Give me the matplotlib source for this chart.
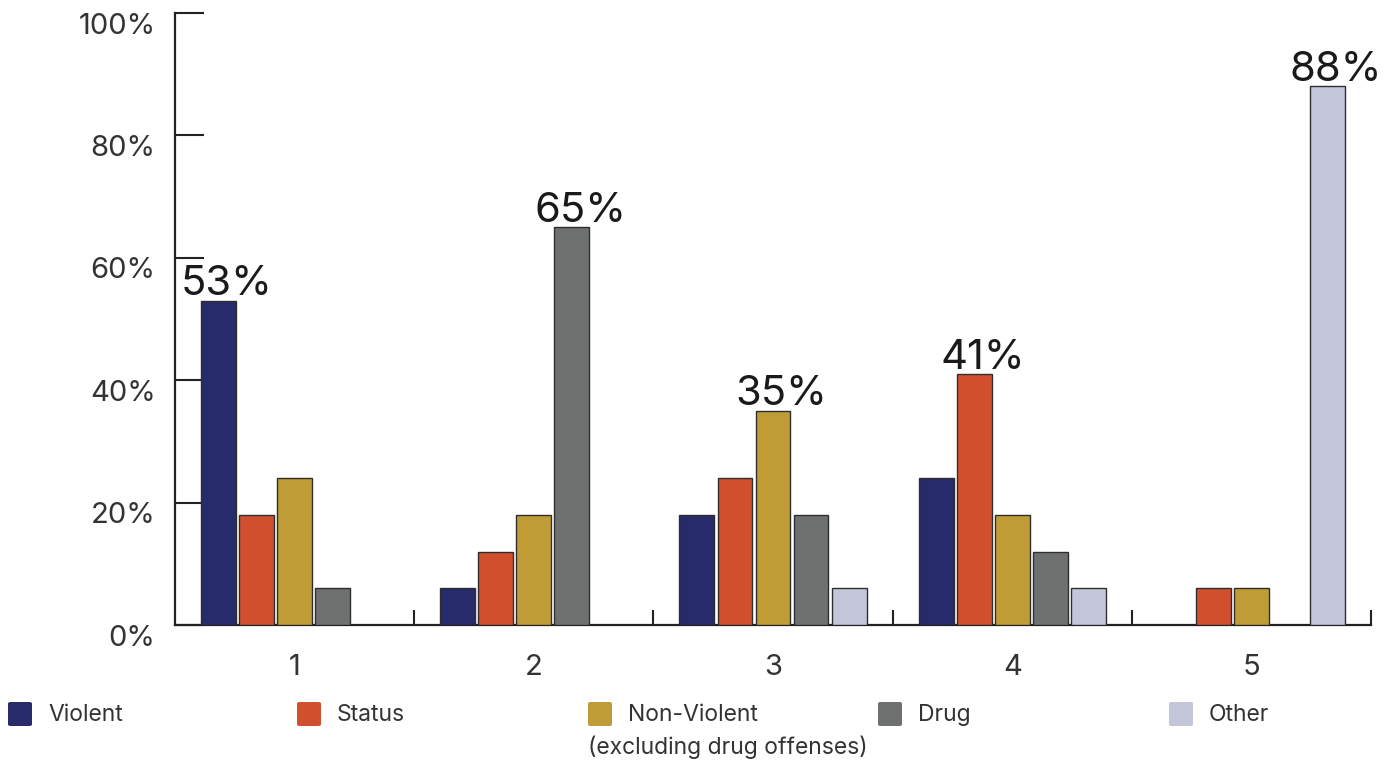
import numpy as np
import matplotlib.pyplot as plt
from matplotlib.patches import FancyBboxPatch
from matplotlib.transforms import ScaledTranslation

plt.rcParams['font.family'] = ['Inter', 'DejaVu Sans']

# offense category shares for each of the five groups
groups     = ['1', '2', '3', '4', '5']
categories = ['Violent', 'Status', 'Non-Violent', 'Drug', 'Other']
violent     = [53, 6, 18, 24, 0]
status      = [18, 12, 24, 41, 6]
non_violent = [24, 18, 35, 18, 6]
drug        = [6, 65, 18, 12, 0]
other       = [0, 0, 6, 6, 88]
series = [violent, status, non_violent, drug, other]

COLORS     = ['#272A6B', '#D0502D', '#BF9C35', '#6F7170', '#C3C5D9']
EDGE       = '#2E2E2E'
TEXT_COLOR = '#333333'
BAR_W      = 0.146
PITCH      = 0.159

fig = plt.figure(figsize=(13.93, 7.61), dpi=100)
ax = fig.add_axes([175/1393, 136/761, (1371-175)/1393, (625-13)/761])

x = np.arange(len(groups)) + 0.5
for k, vals in enumerate(series):
    vals = np.array(vals, dtype=float)
    xs = x + (k - 2) * PITCH
    mask = vals > 0
    ax.bar(xs[mask], vals[mask], width=BAR_W, color=COLORS[k],
           edgecolor=EDGE, linewidth=1.0, zorder=3)

# label the tallest bar in each group
table = np.array(series)
for g in range(len(groups)):
    k = int(np.argmax(table[:, g]))
    v = table[k, g]
    ax.text(x[g] + (k - 2) * PITCH + 0.035, v + 0.9, f'{v:.0f}%',
            ha='center', va='baseline', fontsize=30, color='#1A1A1A')

ax.set_xlim(0, 5)
ax.set_ylim(0, 100)
for s in ['top', 'right']:
    ax.spines[s].set_visible(False)
for s in ['left', 'bottom']:
    ax.spines[s].set_linewidth(1.6)
    ax.spines[s].set_color('#222222')

ax.set_yticks(np.arange(0, 101, 20))
ax.set_yticklabels([f'{v}%' for v in range(0, 101, 20)])
ax.tick_params(axis='y', direction='in', length=21, width=1.5, color='#222222',
               pad=14, labelsize=21, labelcolor=TEXT_COLOR)
shift = ScaledTranslation(0, -0.10, fig.dpi_scale_trans)
for lab in ax.get_yticklabels():
    lab.set_transform(lab.get_transform() + shift)

ax.set_xticks(x)
ax.set_xticklabels(groups)
ax.set_xticks([1, 2, 3, 4, 5], minor=True)
ax.tick_params(axis='x', which='major', length=0, pad=21, labelsize=21,
               labelcolor=TEXT_COLOR)
ax.tick_params(axis='x', which='minor', direction='in', length=11, width=1.5,
               color='#222222')

# legend row along the bottom
legend_x = [8, 297, 588, 878, 1169]
for k, name in enumerate(categories):
    x0 = legend_x[k] / 1393
    box = FancyBboxPatch((x0, 1 - 726/761), 24/1393, 24/761,
                         boxstyle='round,pad=0,rounding_size=0.002',
                         transform=fig.transFigure, facecolor=COLORS[k],
                         edgecolor='none')
    fig.patches.append(box)
    fig.text((legend_x[k] + 40) / 1393, 1 - 715/761, name, fontsize=16.5,
             color=TEXT_COLOR, va='center', ha='left')
fig.text(588 / 1393, 1 - 747/761, '(excluding drug offenses)', fontsize=16.5,
         color=TEXT_COLOR, va='center', ha='left')

fig.savefig('out.png', dpi=100, facecolor='white')
